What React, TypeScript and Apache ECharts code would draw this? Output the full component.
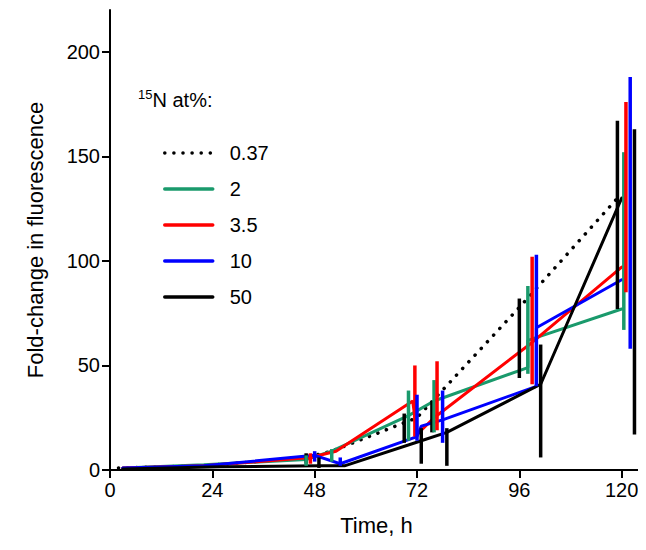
import { useEffect, useRef } from 'react'
import * as echarts from 'echarts'

const names = ['0.37', '2', '3.5', '10', '50']
const colors = ['#000000', '#1a9a6c', '#ff0000', '#0000ff', '#000000']

// line points [time, value]
const line037 = [[2, 1], [22, 2], [28, 3], [46, 6], [52, 9], [72, 25], [97, 80], [119, 130]]
const line2 = [[3, 1], [22, 2.5], [46, 5], [52, 9], [70, 26], [76, 33], [98, 49], [98, 62], [120, 77]]
const line35 = [[3, 1], [22, 2], [47, 6], [53, 9], [71, 33], [72, 17], [76, 25], [99, 61], [120, 97]]
const line10 = [[3, 1], [22, 2], [48, 7], [54, 3], [72, 16], [73, 21], [78, 24], [100, 40], [100, 68], [120, 91]]
const line50 = [[3, 0.5], [26, 1.5], [49, 2], [55, 2], [73, 14], [79, 18], [101, 41], [120, 130]]

// error bars [time, low, high]
const err037 = [[46, 3, 8], [69, 13, 27], [75.5, 18, 33], [96, 44, 82], [119, 77, 167]]
const err2 = [[46, 2, 7], [52, 4, 10], [70, 14, 38], [76, 18, 43], [98, 46, 88], [120.5, 67, 152]]
const err35 = [[47, 3, 8], [71.5, 16, 50], [76.7, 19, 52], [99, 41, 102], [121, 85, 176]]
const err10 = [[48, 4, 9], [54, 2, 6], [72, 14, 36], [78, 13, 38], [100, 40, 103], [122, 58, 188]]
const err50 = [[49, 1, 6], [73, 3, 20], [79, 2, 20], [101, 6, 60], [123, 17, 163]]

const lines = [line037, line2, line35, line10, line50]
const errs = [err037, err2, err35, err10, err50]

const App = () => {
  const chartRef = useRef<HTMLDivElement>(null)

  useEffect(() => {
    if (!chartRef.current) return
    const chart = echarts.init(chartRef.current, null, { renderer: 'svg' })

    const lineSeries = lines.map((d, i) => ({
      name: names[i],
      type: 'line',
      data: d,
      symbol: 'none',
      color: colors[i],
      lineStyle: { width: i === 0 ? 3.5 : 3, color: colors[i], type: i === 0 ? [0.1, 9] : 'solid', cap: 'round' },
      z: 3,
    }))

    const errSeries = errs.map((d, i) => ({
      type: 'custom',
      data: d,
      z: 4,
      renderItem: (_p: any, api: any) => {
        const a = api.coord([api.value(0), api.value(1)])
        const b = api.coord([api.value(0), api.value(2)])
        return {
          type: 'line',
          shape: { x1: a[0], y1: a[1], x2: b[0], y2: b[1] },
          style: { stroke: colors[i], lineWidth: 3.5 },
        }
      },
    }))

    chart.setOption({
      animation: false,
      textStyle: { fontFamily: 'Liberation Sans, Arial, sans-serif' },
      grid: { left: 102, right: 3, top: 2, bottom: 72 },
      legend: {
        data: names,
        orient: 'vertical',
        left: 150,
        top: 130,
        itemWidth: 48,
        itemHeight: 16,
        itemGap: 16,
        itemStyle: { color: 'transparent', borderWidth: 0 },
        lineStyle: { width: 3.5 },
        textStyle: { fontSize: 20, color: '#000', padding: [0, 0, 0, 12] },
      },
      graphic: [{
        type: 'text',
        left: 130,
        top: 80,
        style: {
          text: '{s|15}N at%:',
          fontSize: 20,
          fill: '#000',
          fontFamily: 'Liberation Sans, Arial, sans-serif',
          rich: { s: { fontSize: 13, verticalAlign: 'top', padding: [0, 0, 10, 0] } },
        },
      }],
      xAxis: {
        type: 'value',
        min: 0,
        max: 125,
        interval: 24,
        name: 'Time, h',
        nameLocation: 'middle',
        nameGap: 44,
        nameTextStyle: { fontSize: 22, color: '#000' },
        axisLine: { lineStyle: { color: '#000', width: 2 } },
        axisTick: { show: true, length: 8, lineStyle: { color: '#000', width: 2 } },
        axisLabel: { fontSize: 20, color: '#000', showMaxLabel: false, margin: 10 },
        splitLine: { show: false },
      },
      yAxis: {
        type: 'value',
        min: 0,
        max: 220,
        interval: 50,
        name: 'Fold-change in fluorescence',
        nameLocation: 'middle',
        nameGap: 64,
        nameTextStyle: { fontSize: 22, color: '#000' },
        axisLine: { show: true, lineStyle: { color: '#000', width: 2 } },
        axisTick: { show: true, length: 8, lineStyle: { color: '#000', width: 2 } },
        axisLabel: { fontSize: 20, color: '#000', showMaxLabel: false, margin: 10 },
        splitLine: { show: false },
      },
      series: [...lineSeries, ...errSeries],
    })

    return () => chart.dispose()
  }, [])

  return <div ref={chartRef} style={{ width: 638, height: 534, background: '#fff' }} />
}

export default App
